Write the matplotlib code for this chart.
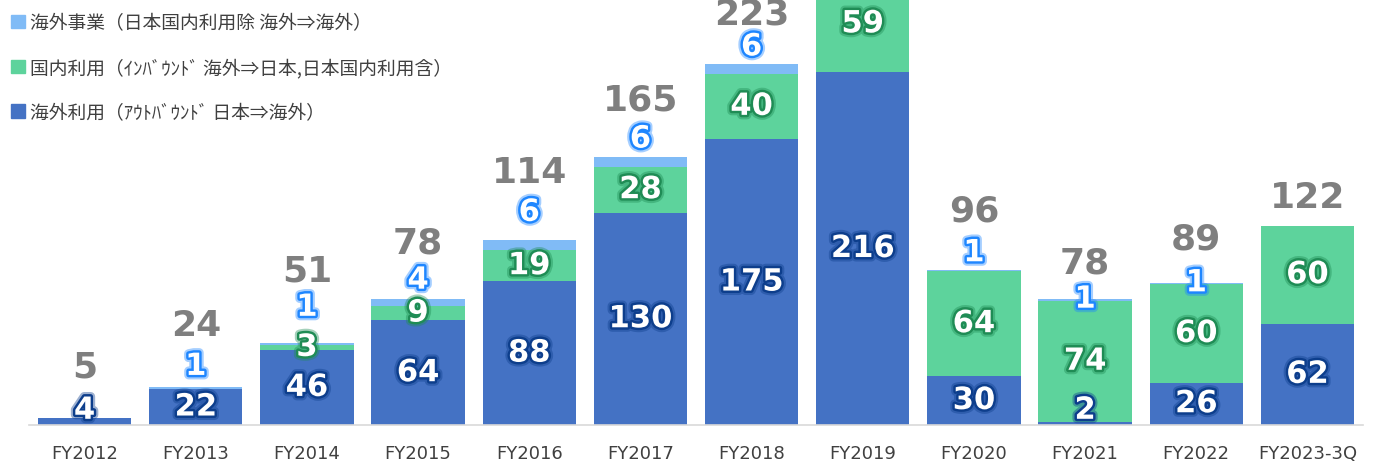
import matplotlib
matplotlib.use("Agg")
import matplotlib.pyplot as plt
import matplotlib.patheffects as pe
from matplotlib.patches import Patch
import numpy as np

# Define Data
years = ["FY2012", "FY2013", "FY2014", "FY2015", "FY2016", "FY2017",
         "FY2018", "FY2019", "FY2020", "FY2021", "FY2022", "FY2023-3Q"]
outbound = [4, 22, 46, 64, 88, 130, 175, 216, 30, 2, 26, 62]
inbound = [0, 0, 3, 9, 19, 28, 40, 59, 64, 74, 60, 60]
overseas = [0, 1, 1, 4, 6, 6, 6, 0, 1, 1, 1, 0]
totals = [5, 24, 51, 78, 114, 165, 223, None, 96, 78, 89, 122]

legend_labels = ["海外事業（日本国内利用除 海外⇒海外）",
                 "国内利用（ｲﾝﾊﾞｳﾝﾄﾞ 海外⇒日本,日本国内利用含）",
                 "海外利用（ｱｳﾄﾊﾞｳﾝﾄﾞ 日本⇒海外）"]

# Label Lifts Above Bar Tops (pixels)
ovs_lift = [0, 21, 36, 19, 28, 18, 17, 0, 17, 0, 0, 0]
total_lift = [52, 62, 73, 57, 68, 58, 50, 0, 59, 37, 44, 29]

# Colors
C_OUT, C_IN, C_OVS = "#4472C4", "#5DD39C", "#80BBF6"
S_OUT, S_IN, S_OVS = "#0D3E8C", "#1F8C55", "#1E86FF"

plt.rcParams['font.family'] = ['DejaVu Sans']
JP = ['Noto Sans CJK JP', 'DejaVu Sans']


# Function to Build the Glow Effect for White Labels
def glow(stroke):
    return [pe.withStroke(linewidth=6.5, foreground=stroke, alpha=0.4),
            pe.withStroke(linewidth=3.5, foreground=stroke)]


fig = plt.figure(figsize=(13.78, 4.64), dpi=100)
ax = fig.add_axes([29 / 1378, 38 / 464, 1334 / 1378, 426 / 464])

x = np.arange(len(years))
out = np.array(outbound)
inn = np.array(inbound)
ovs = np.array(overseas)

ax.bar(x, out, width=0.84, color=C_OUT, zorder=2)
ax.bar(x, inn, width=0.84, bottom=out, color=C_IN, zorder=2)
ax.bar(x, ovs, width=0.84, bottom=out + inn, color=C_OVS, zorder=2)

ax.set_xlim(-0.5, len(years) - 0.5)
ax.set_ylim(0, 260.7)

# Segment Labels
for i in range(len(years)):
    ax.text(i, max(out[i] / 2, 9), str(out[i]), ha="center", va="center",
            fontsize=22, fontweight="bold", color="white", zorder=5,
            path_effects=glow(S_OUT))
    if inn[i] > 0:
        ax.text(i, out[i] + inn[i] / 2, str(inn[i]), ha="center", va="center",
                fontsize=22, fontweight="bold", color="white", zorder=5,
                path_effects=glow(S_IN))
    top = out[i] + inn[i] + ovs[i]
    if ovs[i] > 0:
        ax.annotate(str(ovs[i]), (i, top), xytext=(0, ovs_lift[i]),
                    textcoords="offset pixels", ha="center", va="center",
                    fontsize=22, fontweight="bold", color="white", zorder=5,
                    annotation_clip=False, path_effects=glow(S_OVS))
    if totals[i] is not None:
        ax.annotate(str(totals[i]), (i, top), xytext=(0, total_lift[i]),
                    textcoords="offset pixels", ha="center", va="center",
                    fontsize=26, fontweight="bold", color="#7F7F7F", zorder=5,
                    annotation_clip=False)

# Axis Styling
for side in ["top", "right", "left"]:
    ax.spines[side].set_visible(False)
ax.spines["bottom"].set_color("#D9D9D9")
ax.spines["bottom"].set_linewidth(1.2)
ax.set_yticks([])
ax.set_xticks(x)
ax.set_xticklabels(years, fontsize=13, color="#404040")
ax.tick_params(axis="x", length=0, pad=14)

# Legend
handles = [Patch(color=C_OVS), Patch(color=C_IN), Patch(color=C_OUT)]
fig.legend(handles, legend_labels, loc="upper left", bbox_to_anchor=(0.0, 0.996),
           frameon=False, prop={'family': JP, 'size': 13.5}, labelcolor="#404040",
           handlelength=0.72, handleheight=0.72, handletextpad=0.3,
           labelspacing=1.27, borderaxespad=0.2)

plt.savefig("out.png", dpi=100)
